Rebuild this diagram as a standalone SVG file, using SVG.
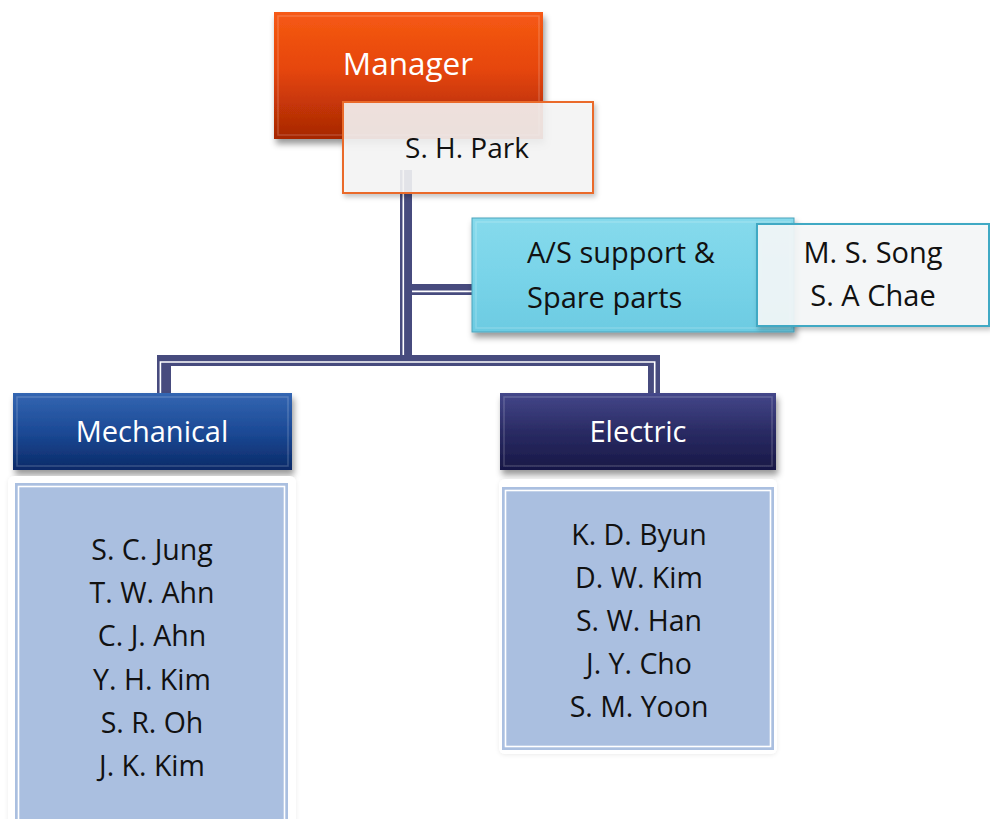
<svg xmlns="http://www.w3.org/2000/svg" width="990" height="819" viewBox="0 0 990 819">
<defs>
<linearGradient id="gMgr" x1="0" y1="0" x2="0" y2="1">
<stop offset="0" stop-color="#F65A14"/><stop offset="0.45" stop-color="#E6460A"/><stop offset="1" stop-color="#A62604"/>
</linearGradient>
<linearGradient id="gMech" x1="0" y1="0" x2="0" y2="1">
<stop offset="0" stop-color="#3466B2"/><stop offset="0.5" stop-color="#1C4A96"/><stop offset="1" stop-color="#0A2A68"/>
</linearGradient>
<linearGradient id="gElec" x1="0" y1="0" x2="0" y2="1">
<stop offset="0" stop-color="#44478A"/><stop offset="0.5" stop-color="#2A2B64"/><stop offset="1" stop-color="#181846"/>
</linearGradient>
<linearGradient id="gAS" x1="0" y1="0" x2="0" y2="1">
<stop offset="0" stop-color="#86DAEC"/><stop offset="0.5" stop-color="#79D4E9"/><stop offset="1" stop-color="#6CCBE2"/>
</linearGradient>
<filter id="sh" x="-10%" y="-10%" width="125%" height="135%">
<feDropShadow dx="2" dy="5" stdDeviation="3" flood-color="#000" flood-opacity="0.4"/>
</filter>
<filter id="sh2" x="-10%" y="-10%" width="125%" height="135%">
<feDropShadow dx="2" dy="3" stdDeviation="2.5" flood-color="#000" flood-opacity="0.25"/>
</filter>
<filter id="sh3" x="-10%" y="-10%" width="125%" height="125%">
<feDropShadow dx="0" dy="1" stdDeviation="2" flood-color="#000" flood-opacity="0.08"/>
</filter>
</defs>
<style>
text{font-family:"Open Sans","Noto Sans","DejaVu Sans",sans-serif;}
.w{fill:#FFFFFF;}
.k{fill:#111111;}
.c{text-anchor:middle;}
.cd{fill:#474B7E;}
.cw{stroke:#FFFFFF;stroke-width:1.6;fill:none;}
.bev{fill:none;stroke:#FFFFFF;stroke-opacity:0.18;stroke-width:1.5;}
.lst{fill:#AABFE0;}
.lstw{fill:none;stroke:#FFFFFF;stroke-width:1.6;}
.nm{font-size:28.5px;}
</style>

<g id="connectors">
<rect class="cd" x="400" y="170" width="12" height="196"/>
<rect class="cd" x="412" y="284" width="60" height="11"/>
<rect class="cd" x="157" y="355" width="503" height="11"/>
<rect class="cd" x="157" y="355" width="14" height="38"/>
<rect class="cd" x="648" y="355" width="12" height="38"/>
<path class="cw" d="M403.3,170 V355"/>
<path class="cw" d="M412,291.4 H472"/>
<path class="cw" d="M160.4,393 V362 H654.7 V393"/>
</g>

<g id="manager">
<rect x="274" y="12" width="269" height="127" fill="url(#gMgr)" filter="url(#sh)"/>
<rect class="bev" x="278" y="16" width="261" height="119"/>
<text class="w c" x="408" y="75" font-size="31.5">Manager</text>
</g>

<g id="park">
<rect x="343" y="102" width="250" height="91" fill="#F6F6F6" fill-opacity="0.88" stroke="#EA6B2C" stroke-width="2" filter="url(#sh2)"/>
<text class="k c" x="467" y="158" font-size="28">S. H. Park</text>
</g>

<g id="as-support">
<rect x="472" y="218" width="322" height="114" fill="url(#gAS)" stroke="#4AA3BC" stroke-width="1" filter="url(#sh)"/>
<rect class="bev" x="476" y="222" width="314" height="106" stroke-opacity="0.3"/>
<text class="k" x="527" y="263" font-size="29">A/S support &amp;</text>
<text class="k" x="527" y="308" font-size="29">Spare parts</text>
</g>

<g id="as-staff">
<rect x="757" y="224" width="232" height="102" fill="#F6F8F9" fill-opacity="0.9" stroke="#3FA9C4" stroke-width="2" filter="url(#sh2)"/>
<text class="k c" x="873" y="263" font-size="29">M. S. Song</text>
<text class="k c" x="873" y="306" font-size="29">S. A Chae</text>
</g>

<g id="mechanical">
<rect x="13" y="393" width="279" height="77" fill="url(#gMech)" filter="url(#sh)"/>
<rect class="bev" x="17" y="397" width="271" height="69"/>
<text class="w c" x="152" y="442" font-size="29">Mechanical</text>
</g>

<g id="electric">
<rect x="500" y="393" width="276" height="77" fill="url(#gElec)" filter="url(#sh)"/>
<rect class="bev" x="504" y="397" width="268" height="69"/>
<text class="w c" x="638" y="442" font-size="29">Electric</text>
</g>

<g id="mechanical-staff">
<rect x="8" y="476" width="288" height="360" rx="6" fill="#FFFFFF" filter="url(#sh3)"/>
<rect class="lst" x="15" y="483" width="273" height="350"/>
<rect class="lstw" x="18.5" y="486.5" width="266" height="345"/>
<text class="k c nm" x="152" y="560">S. C. Jung</text>
<text class="k c nm" x="152" y="603">T. W. Ahn</text>
<text class="k c nm" x="152" y="646">C. J. Ahn</text>
<text class="k c nm" x="152" y="690">Y. H. Kim</text>
<text class="k c nm" x="152" y="733">S. R. Oh</text>
<text class="k c nm" x="152" y="776">J. K. Kim</text>
</g>

<g id="electric-staff">
<rect x="499" y="479" width="278" height="275" rx="6" fill="#FFFFFF" filter="url(#sh3)"/>
<rect class="lst" x="502" y="487" width="272" height="263"/>
<rect class="lstw" x="505.5" y="490.5" width="265" height="256"/>
<text class="k c nm" x="639" y="545">K. D. Byun</text>
<text class="k c nm" x="639" y="588">D. W. Kim</text>
<text class="k c nm" x="639" y="631">S. W. Han</text>
<text class="k c nm" x="639" y="674">J. Y. Cho</text>
<text class="k c nm" x="639" y="717">S. M. Yoon</text>
</g>
</svg>
